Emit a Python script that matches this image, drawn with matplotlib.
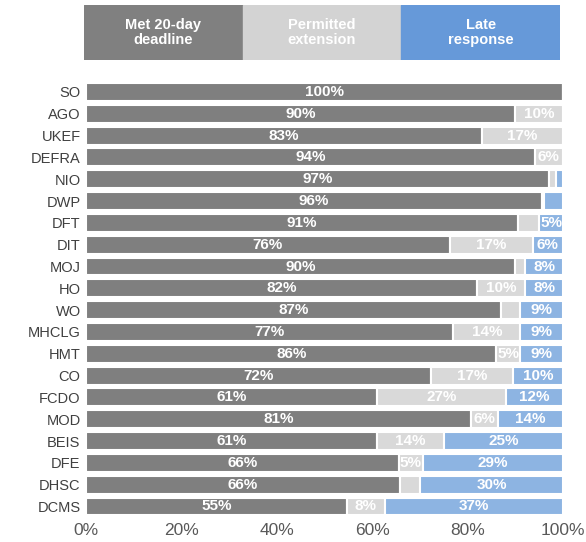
import matplotlib
matplotlib.use("Agg")
import matplotlib.pyplot as plt
import numpy as np

plt.rcParams['font.family'] = ['Liberation Sans', 'DejaVu Sans']

# departments, top to bottom
depts = ['SO', 'AGO', 'UKEF', 'DEFRA', 'NIO', 'DWP', 'DFT', 'DIT', 'MOJ', 'HO',
         'WO', 'MHCLG', 'HMT', 'CO', 'FCDO', 'MOD', 'BEIS', 'DFE', 'DHSC', 'DCMS']
met = [100, 90, 83, 94, 97, 95.5, 90.6, 76.2, 90, 82,
       87, 77, 86, 72.2, 61, 80.6, 61, 65.6, 65.7, 54.6]
extension = [0, 10, 17, 6, 1.5, 0.5, 4.4, 17.4, 2, 10,
             4, 14, 5, 17.3, 27, 5.8, 14, 5, 4.3, 8]
late = [0, 0, 0, 0, 1.5, 4, 5, 6.4, 8, 8,
        9, 9, 9, 10.5, 12, 13.6, 25, 29.4, 30, 37.4]
ticks = [0, 20, 40, 60, 80, 100]

series = [
    ('Met 20-day\ndeadline', met, '#7f7f7f', '#808080'),
    ('Permitted\nextension', extension, '#d9d9d9', '#d3d3d3'),
    ('Late\nresponse', late, '#8db4e2', '#6699d9'),
]

fig = plt.figure(figsize=(5.86, 5.42), dpi=100)
ax = fig.add_axes([0.147, 0.0454, 0.814, 0.805])

y = np.arange(len(depts))
left = np.zeros(len(depts))
for name, vals, col, _ in series:
    vals = np.array(vals, dtype=float)
    ax.barh(y, vals, left=left, height=0.82, color=col,
            edgecolor='white', linewidth=1.5)
    for yi, l, v in zip(y, left, vals):
        if v >= 4.95:
            ax.text(l + v / 2, yi, f"{v:.0f}%", ha='center', va='center',
                    color='white', fontsize=11, fontweight='bold')
    left += vals

ax.set_xlim(0, 100)
ax.set_ylim(len(depts) - 0.5, -0.5)
ax.set_yticks(y)
ax.set_yticklabels(depts, fontsize=10.5, color='#404040')
ax.set_xticks(ticks)
ax.set_xticklabels([f"{t}%" for t in ticks], fontsize=12.5, color='#595959')
ax.tick_params(length=0, pad=4)
for s in ax.spines.values():
    s.set_visible(False)

# header legend boxes
lax = fig.add_axes([84 / 586, 1 - 60 / 542, 476 / 586, 55 / 542])
for i, (name, _, _, hcol) in enumerate(series):
    lax.add_patch(plt.Rectangle((i, 0), 1, 1, color=hcol))
    lax.text(i + 0.5, 0.5, name, ha='center', va='center', color='white',
             fontsize=10.5, fontweight='bold', linespacing=1.1)
lax.set_xlim(0, 3)
lax.set_ylim(0, 1)
lax.axis('off')

fig.savefig('out.png', dpi=100)
